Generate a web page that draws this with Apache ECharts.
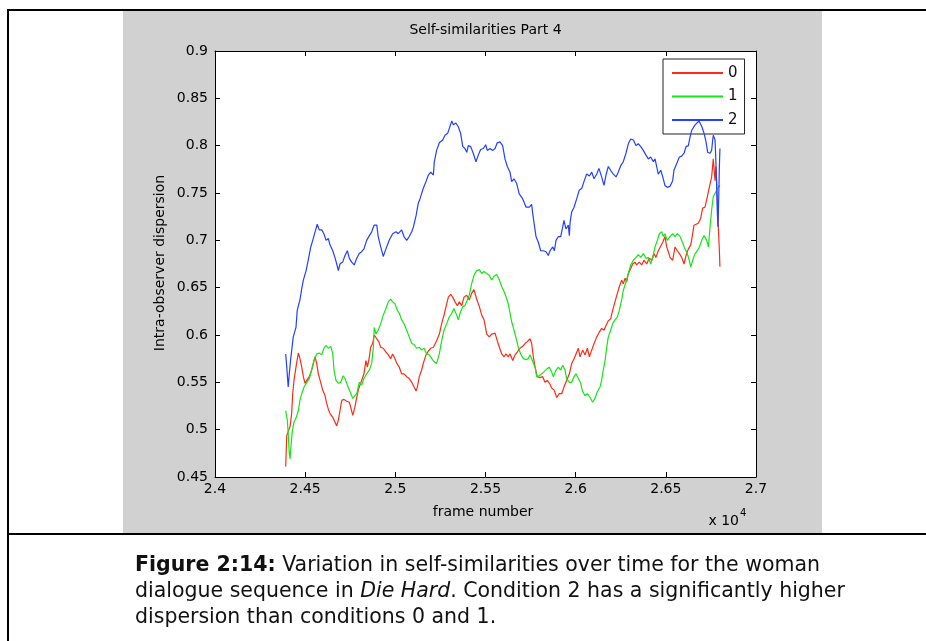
<!DOCTYPE html>
<html>
<head>
<meta charset="utf-8">
<script src="https://cdn.jsdelivr.net/npm/echarts@6/dist/echarts.min.js"></script>
<style>
  html, body { margin: 0; padding: 0; background: #fff; }
  #chart { width: 926px; height: 641px; }
</style>
</head>
<body>
<div id="chart"></div>
<script>
// Condition labels (legend entries)
const conditionNames = ['0', '1', '2'];

// Condition 0: frame numbers and intra-observer dispersion
const cond0Frames = [24392,24398,24406,24416,24425,24431,24438,24449,24462,24471,24481,24490,24499,24509,24523,24536,24545,24555,24564,24573,24586,24597,24610,24619,24628,24638,24653,24665,24675,24684,24693,24703,24715,24730,24745,24752,24764,24776,24786,24795,24804,24813,24826,24837,24845,24856,24863,24874,24883,24897,24908,24919,24933,24948,24961,24974,24985,24998,25008,25022,25035,25048,25063,25077,25091,25104,25115,25122,25133,25146,25155,25170,25183,25196,25211,25229,25244,25257,25270,25281,25294,25307,25318,25331,25344,25355,25368,25381,25396,25410,25423,25436,25451,25466,25479,25492,25507,25521,25534,25553,25565,25577,25590,25603,25614,25626,25636,25651,25664,25676,25691,25706,25719,25732,25747,25756,25765,25775,25787,25802,25817,25830,25843,25858,25867,25880,25895,25909,25923,25935,25950,25965,25978,25991,26002,26015,26024,26039,26052,26065,26076,26089,26102,26117,26131,26144,26157,26168,26181,26194,26205,26218,26231,26242,26255,26264,26274,26283,26292,26305,26316,26329,26338,26353,26366,26379,26394,26408,26422,26434,26445,26458,26468,26483,26495,26505,26514,26523,26538,26551,26564,26575,26588,26601,26612,26625,26638,26649,26656,26667,26680,26693,26704,26717,26730,26741,26754,26763,26773,26778,26785,26791,26797,26800];
const cond0Values = [0.461,0.494,0.492,0.503,0.517,0.538,0.552,0.566,0.581,0.575,0.566,0.556,0.549,0.552,0.556,0.563,0.570,0.577,0.570,0.559,0.550,0.542,0.536,0.528,0.522,0.517,0.513,0.508,0.504,0.510,0.520,0.531,0.532,0.530,0.529,0.524,0.515,0.524,0.534,0.542,0.547,0.552,0.559,0.573,0.566,0.577,0.587,0.591,0.600,0.596,0.593,0.587,0.586,0.582,0.579,0.575,0.580,0.575,0.570,0.566,0.559,0.559,0.556,0.554,0.550,0.545,0.541,0.545,0.556,0.563,0.570,0.579,0.583,0.586,0.587,0.594,0.601,0.612,0.621,0.630,0.640,0.643,0.640,0.635,0.631,0.635,0.631,0.640,0.642,0.637,0.644,0.648,0.638,0.630,0.621,0.616,0.601,0.598,0.601,0.602,0.594,0.587,0.580,0.577,0.580,0.577,0.580,0.573,0.579,0.582,0.586,0.588,0.591,0.593,0.596,0.591,0.577,0.566,0.556,0.555,0.556,0.550,0.552,0.548,0.544,0.542,0.534,0.538,0.538,0.545,0.552,0.559,0.570,0.575,0.580,0.586,0.577,0.584,0.579,0.586,0.577,0.584,0.591,0.598,0.603,0.607,0.605,0.610,0.615,0.617,0.626,0.635,0.644,0.651,0.658,0.654,0.660,0.656,0.665,0.670,0.675,0.677,0.674,0.677,0.674,0.679,0.675,0.681,0.679,0.686,0.682,0.689,0.691,0.698,0.704,0.693,0.688,0.682,0.679,0.693,0.689,0.686,0.682,0.675,0.684,0.691,0.695,0.707,0.716,0.714,0.718,0.723,0.734,0.735,0.746,0.756,0.767,0.786,0.763,0.778,0.746,0.714,0.689,0.672];

// Condition 1
const cond1Frames = [24392,24401,24406,24412,24416,24421,24429,24438,24449,24462,24471,24481,24494,24509,24523,24536,24549,24564,24578,24592,24604,24616,24628,24642,24653,24660,24671,24684,24697,24711,24721,24734,24749,24764,24771,24786,24800,24813,24826,24841,24856,24869,24878,24883,24893,24905,24919,24933,24948,24961,24974,24985,24998,25011,25022,25035,25048,25063,25077,25091,25104,25118,25133,25146,25159,25174,25188,25202,25214,25229,25244,25257,25270,25285,25299,25313,25325,25340,25349,25359,25374,25386,25399,25410,25423,25436,25451,25466,25479,25492,25507,25521,25534,25547,25562,25577,25590,25603,25618,25626,25636,25645,25654,25664,25673,25682,25695,25710,25725,25737,25747,25762,25775,25784,25798,25812,25824,25839,25854,25867,25876,25891,25904,25917,25928,25941,25950,25965,25978,25991,26002,26015,26028,26039,26052,26065,26080,26094,26107,26120,26135,26144,26153,26163,26172,26181,26194,26205,26218,26231,26242,26255,26264,26279,26292,26305,26320,26335,26347,26361,26375,26390,26403,26416,26427,26440,26453,26464,26477,26486,26495,26508,26523,26538,26551,26564,26579,26594,26606,26619,26630,26638,26649,26662,26675,26686,26699,26712,26727,26736,26745,26754,26763,26773,26782,26791,26800];
const cond1Values = [0.520,0.510,0.496,0.475,0.469,0.482,0.499,0.508,0.512,0.520,0.531,0.538,0.545,0.550,0.554,0.563,0.573,0.580,0.581,0.579,0.586,0.589,0.586,0.588,0.580,0.563,0.552,0.549,0.550,0.557,0.554,0.547,0.540,0.533,0.531,0.538,0.550,0.547,0.554,0.559,0.563,0.570,0.587,0.608,0.601,0.605,0.612,0.621,0.628,0.635,0.638,0.635,0.633,0.626,0.623,0.616,0.612,0.605,0.598,0.591,0.590,0.586,0.587,0.584,0.586,0.580,0.579,0.575,0.572,0.570,0.580,0.594,0.605,0.612,0.619,0.623,0.628,0.621,0.616,0.623,0.630,0.631,0.637,0.642,0.654,0.663,0.668,0.669,0.665,0.667,0.665,0.663,0.658,0.662,0.664,0.658,0.651,0.646,0.638,0.633,0.623,0.614,0.608,0.601,0.594,0.587,0.580,0.575,0.574,0.575,0.579,0.572,0.566,0.556,0.557,0.559,0.561,0.564,0.566,0.561,0.556,0.563,0.566,0.563,0.568,0.563,0.554,0.550,0.550,0.556,0.559,0.554,0.549,0.540,0.536,0.538,0.534,0.529,0.533,0.540,0.545,0.552,0.563,0.573,0.587,0.598,0.605,0.612,0.616,0.619,0.626,0.637,0.647,0.656,0.665,0.674,0.679,0.682,0.685,0.682,0.686,0.681,0.682,0.675,0.682,0.693,0.700,0.707,0.709,0.704,0.707,0.700,0.704,0.707,0.704,0.707,0.704,0.697,0.691,0.686,0.679,0.672,0.679,0.686,0.689,0.693,0.700,0.705,0.700,0.693,0.714,0.732,0.746,0.748,0.753,0.756,0.758];

// Condition 2
const cond2Frames = [24392,24398,24406,24412,24420,24429,24434,24449,24456,24471,24481,24490,24505,24517,24531,24542,24555,24567,24578,24592,24604,24616,24628,24638,24653,24665,24675,24684,24693,24708,24721,24734,24745,24758,24772,24786,24800,24813,24826,24841,24856,24869,24882,24897,24905,24919,24933,24948,24966,24985,25004,25016,25035,25048,25063,25077,25091,25100,25115,25127,25137,25146,25155,25170,25183,25196,25211,25216,25229,25244,25263,25275,25290,25299,25313,25322,25336,25349,25362,25374,25386,25396,25405,25418,25432,25447,25460,25473,25488,25501,25510,25525,25540,25553,25565,25580,25595,25608,25621,25636,25645,25658,25673,25687,25706,25725,25743,25756,25762,25771,25780,25793,25806,25821,25836,25848,25858,25873,25882,25891,25904,25917,25928,25935,25946,25959,25965,25969,25978,25991,26006,26020,26034,26046,26061,26076,26089,26102,26117,26129,26144,26157,26168,26181,26194,26209,26224,26236,26250,26264,26279,26292,26305,26320,26335,26347,26361,26375,26390,26403,26416,26431,26440,26449,26458,26472,26483,26495,26508,26523,26538,26545,26560,26575,26588,26601,26612,26625,26634,26643,26662,26684,26700,26712,26723,26732,26745,26754,26760,26763,26773,26778,26782,26785,26789,26793,26797,26800];
const cond2Values = [0.580,0.566,0.545,0.559,0.575,0.577,0.598,0.608,0.626,0.637,0.649,0.658,0.668,0.679,0.693,0.700,0.709,0.717,0.711,0.711,0.707,0.700,0.702,0.695,0.689,0.682,0.675,0.668,0.675,0.677,0.684,0.689,0.681,0.677,0.674,0.681,0.686,0.688,0.691,0.700,0.705,0.709,0.716,0.716,0.704,0.693,0.683,0.691,0.700,0.707,0.709,0.707,0.711,0.704,0.700,0.704,0.709,0.714,0.726,0.739,0.744,0.742,0.755,0.762,0.769,0.772,0.769,0.783,0.795,0.803,0.806,0.811,0.813,0.818,0.826,0.822,0.824,0.820,0.813,0.799,0.797,0.793,0.800,0.799,0.792,0.783,0.790,0.796,0.797,0.801,0.795,0.797,0.795,0.797,0.803,0.804,0.800,0.786,0.778,0.772,0.762,0.765,0.760,0.749,0.744,0.735,0.735,0.738,0.728,0.716,0.704,0.698,0.689,0.689,0.688,0.684,0.689,0.693,0.689,0.700,0.704,0.704,0.714,0.721,0.712,0.716,0.705,0.719,0.730,0.735,0.744,0.753,0.755,0.762,0.770,0.768,0.772,0.765,0.770,0.776,0.767,0.758,0.769,0.778,0.774,0.770,0.767,0.772,0.779,0.783,0.792,0.802,0.807,0.806,0.800,0.802,0.799,0.795,0.790,0.786,0.788,0.783,0.786,0.778,0.770,0.774,0.767,0.758,0.756,0.757,0.763,0.774,0.781,0.788,0.789,0.792,0.799,0.800,0.809,0.816,0.822,0.826,0.820,0.813,0.804,0.793,0.792,0.795,0.806,0.811,0.806,0.781,0.756,0.732,0.714,0.742,0.778,0.797];

// Axis ranges and tick spacing
const xRange = [24000, 27000];
const xStep = 500;
const yRange = [0.45, 0.9];
const yStep = 0.05;

const lineColors = ['#ff2a14', '#14e614', '#2240ff'];
const FONT = "'DejaVu Sans', Verdana, sans-serif";
const CAPTION_SIZE = '20.5px ';

const zip = (f, v) => f.map((x, i) => [x, v[i]]);
const seriesData = [zip(cond0Frames, cond0Values), zip(cond1Frames, cond1Values), zip(cond2Frames, cond2Values)];

const G = { left: 215, top: 51, width: 541, height: 426 };

const axisCommon = {
  axisLine: { show: true, onZero: false, lineStyle: { color: '#000', width: 1 } },
  axisTick: { show: true, inside: true, length: 5, lineStyle: { color: '#000' } },
  splitLine: { show: false }
};

const chart = echarts.init(document.getElementById('chart'), null, { renderer: 'canvas' });

chart.setOption({
  animation: false,
  backgroundColor: '#ffffff',
  grid: Object.assign({ show: true, backgroundColor: '#ffffff', borderWidth: 0 }, G),
  xAxis: [
    Object.assign({}, axisCommon, {
      type: 'value', position: 'bottom', min: xRange[0], max: xRange[1], interval: xStep,
      axisLabel: { show: true, color: '#000', fontFamily: FONT, fontSize: 14, margin: 5,
        formatter: v => String(Math.round(v / 10) / 1000) }
    }),
    Object.assign({}, axisCommon, {
      type: 'value', position: 'top', min: xRange[0], max: xRange[1], interval: xStep,
      axisLabel: { show: false }
    })
  ],
  yAxis: [
    Object.assign({}, axisCommon, {
      type: 'value', position: 'left', min: yRange[0], max: yRange[1], interval: yStep,
      axisLabel: { show: true, color: '#000', fontFamily: FONT, fontSize: 14, margin: 7,
        formatter: v => String(Math.round(v * 100) / 100) }
    }),
    Object.assign({}, axisCommon, {
      type: 'value', position: 'right', min: yRange[0], max: yRange[1], interval: yStep,
      axisLabel: { show: false }
    })
  ],
  legend: {
    data: conditionNames,
    orient: 'vertical',
    left: 663, top: 59,
    padding: [6.5, 7, 6.5, 9],
    icon: 'rect',
    itemWidth: 51, itemHeight: 2, itemGap: 8.5,
    backgroundColor: '#ffffff',
    borderColor: '#222', borderWidth: 1, borderRadius: 0,
    textStyle: { color: '#111', fontFamily: FONT, fontSize: 15 },
    selectedMode: false
  },
  series: conditionNames.map((name, i) => ({
    name: name,
    type: 'line',
    xAxisIndex: 0, yAxisIndex: 0,
    data: seriesData[i],
    showSymbol: false, symbol: 'none',
    lineStyle: { color: lineColors[i], width: 1.2 },
    itemStyle: { color: lineColors[i] },
    clip: true,
    z: 2 + i
  })),
  graphic: [
    // figure panel
    { type: 'rect', z: -10, silent: true, shape: { x: 123, y: 11, width: 699, height: 522 }, style: { fill: '#d1d1d1' } },
    { type: 'rect', z: 10, silent: true, shape: { x: 7, y: 9, width: 919, height: 2 }, style: { fill: '#000' } },
    { type: 'rect', z: 10, silent: true, shape: { x: 7, y: 9, width: 2, height: 632 }, style: { fill: '#000' } },
    { type: 'rect', z: 10, silent: true, shape: { x: 7, y: 533, width: 919, height: 2 }, style: { fill: '#000' } },
    // titles
    { type: 'text', z: 10, silent: true, x: 485.5, y: 30, style: { text: 'Self-similarities Part 4', font: '14px ' + FONT, fill: '#000', align: 'center', verticalAlign: 'middle' } },
    { type: 'text', z: 10, silent: true, x: 483, y: 512, style: { text: 'frame number', font: '14px ' + FONT, fill: '#000', align: 'center', verticalAlign: 'middle' } },
    { type: 'text', z: 10, silent: true, x: 160, y: 263, rotation: Math.PI / 2, style: { text: 'Intra-observer dispersion', font: '14px ' + FONT, fill: '#000', align: 'center', verticalAlign: 'middle' } },
    { type: 'text', z: 10, silent: true, x: 739, y: 521, style: { text: 'x 10', font: '14px ' + FONT, fill: '#000', align: 'right', verticalAlign: 'middle' } },
    { type: 'text', z: 10, silent: true, x: 740, y: 513, style: { text: '4', font: '10px ' + FONT, fill: '#000', align: 'left', verticalAlign: 'middle' } },
    // caption
    { type: 'text', z: 10, silent: true, x: 135, y: 566, style: {
        text: '{b|Figure 2:14:}{n| Variation in self-similarities over time for the woman}',
        verticalAlign: 'middle', align: 'left',
        rich: { b: { font: 'bold ' + CAPTION_SIZE + FONT, fill: '#111' }, n: { font: CAPTION_SIZE + FONT, fill: '#111' } } } },
    { type: 'text', z: 10, silent: true, x: 135, y: 592, style: {
        text: '{n|dialogue sequence in }{i|Die Hard}{n|. Condition 2 has a significantly higher}',
        verticalAlign: 'middle', align: 'left',
        rich: { i: { font: 'italic ' + CAPTION_SIZE + FONT, fill: '#111' }, n: { font: CAPTION_SIZE + FONT, fill: '#111' } } } },
    { type: 'text', z: 10, silent: true, x: 135, y: 618, style: {
        text: 'dispersion than conditions 0 and 1.', font: CAPTION_SIZE + FONT, fill: '#111', align: 'left', verticalAlign: 'middle' } }
  ]
});
</script>
</body>
</html>
